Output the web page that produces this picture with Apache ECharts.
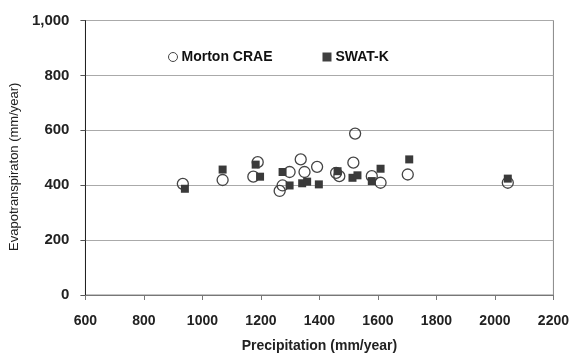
<!DOCTYPE html>
<html><head><meta charset="utf-8">
<script src="https://cdn.jsdelivr.net/npm/echarts@6/dist/echarts.min.js"></script>
<style>html,body{margin:0;padding:0;background:#fff}#c{width:572px;height:358px}</style>
</head><body><div id="c"></div>
<script>
// Morton CRAE (circles): precipitation, ET
const mortonP = [933, 1069, 1174, 1189, 1264, 1274, 1298, 1336, 1349, 1392, 1457, 1468, 1516, 1522, 1579, 1609, 1702, 2044];
const mortonET = [405, 419, 431, 484, 379, 399, 448, 494, 448, 467, 445, 433, 482, 588, 433, 409, 439, 409];
// SWAT-K (squares)
const swatP = [940, 1069, 1182, 1197, 1274, 1298, 1341, 1358, 1398, 1462, 1513, 1530, 1579, 1609, 1707, 2044];
const swatET = [387, 457, 475, 431, 448, 399, 407, 413, 403, 451, 427, 436, 415, 460, 494, 424];
const xTicks = [600, 800, 1000, 1200, 1400, 1600, 1800, 2000, 2200];
const yTicks = [0, 200, 400, 600, 800, 1000];

const zip = (a, b) => a.map((v, i) => [v, b[i]]);
const chart = echarts.init(document.getElementById('c'), null, {renderer: 'canvas'});
const lblFont = {fontFamily: 'Liberation Sans', fontWeight: 'bold', fontSize: 14, color: '#222'};
chart.setOption({
  animation: false,
  grid: {left: 84, right: 16, top: 20.5, bottom: 62, show: true, borderColor: '#888', borderWidth: 1},
  legend: {
    left: 163, top: 45, itemWidth: 9, itemHeight: 9, itemGap: 50,
    textStyle: {fontFamily: 'Liberation Sans', fontWeight: 'bold', fontSize: 14, color: '#111', padding: [0,0,0,-1]},
    data: [
      {name: 'Morton CRAE', icon: 'circle', itemStyle: {color: '#fff', borderColor: '#444', borderWidth: 1}},
      {name: 'SWAT-K', icon: 'rect', itemStyle: {color: '#404040'}}
    ]
  },
  xAxis: {
    type: 'value', min: xTicks[0], max: xTicks[xTicks.length - 1], interval: 200,
    name: 'Precipitation (mm/year)', nameLocation: 'middle', nameGap: 44,
    nameTextStyle: {fontFamily: 'Liberation Sans', fontWeight: 'bold', fontSize: 14, color: '#222'},
    axisLine: {lineStyle: {color: '#777', width: 1}},
    axisTick: {show: true, length: 5, lineStyle: {color: '#777'}},
    axisLabel: Object.assign({margin: 19, formatter: v => String(v)}, lblFont),
    splitLine: {show: false}
  },
  yAxis: {
    type: 'value', min: yTicks[0], max: yTicks[yTicks.length - 1], interval: 200,
    name: 'Evapotranspiraton (mm/year)', nameLocation: 'middle', nameGap: 57, nameRotate: 90,
    nameTextStyle: {fontFamily: 'Liberation Sans', fontSize: 13, color: '#222', padding: [0, 18, 0, 0]},
    axisLine: {show: true, lineStyle: {color: '#222', width: 1}},
    axisTick: {show: true, length: 5, lineStyle: {color: '#555'}},
    axisLabel: Object.assign({margin: 16, formatter: v => v.toLocaleString('en-US')}, lblFont, {fontSize: 15}),
    splitLine: {show: true, lineStyle: {color: '#aaa', width: 1}}
  },
  series: [
    {name: 'Morton CRAE', type: 'scatter', symbol: 'circle', symbolSize: 11, z: 2,
     itemStyle: {color: 'rgba(255,255,255,0)', borderColor: '#444', borderWidth: 1.3, opacity: 1},
     data: zip(mortonP, mortonET)},
    {name: 'SWAT-K', type: 'scatter', symbol: 'rect', symbolSize: 8, z: 3,
     itemStyle: {color: '#3a3a3a', opacity: 1},
     data: zip(swatP, swatET)}
  ]
});
</script></body></html>
